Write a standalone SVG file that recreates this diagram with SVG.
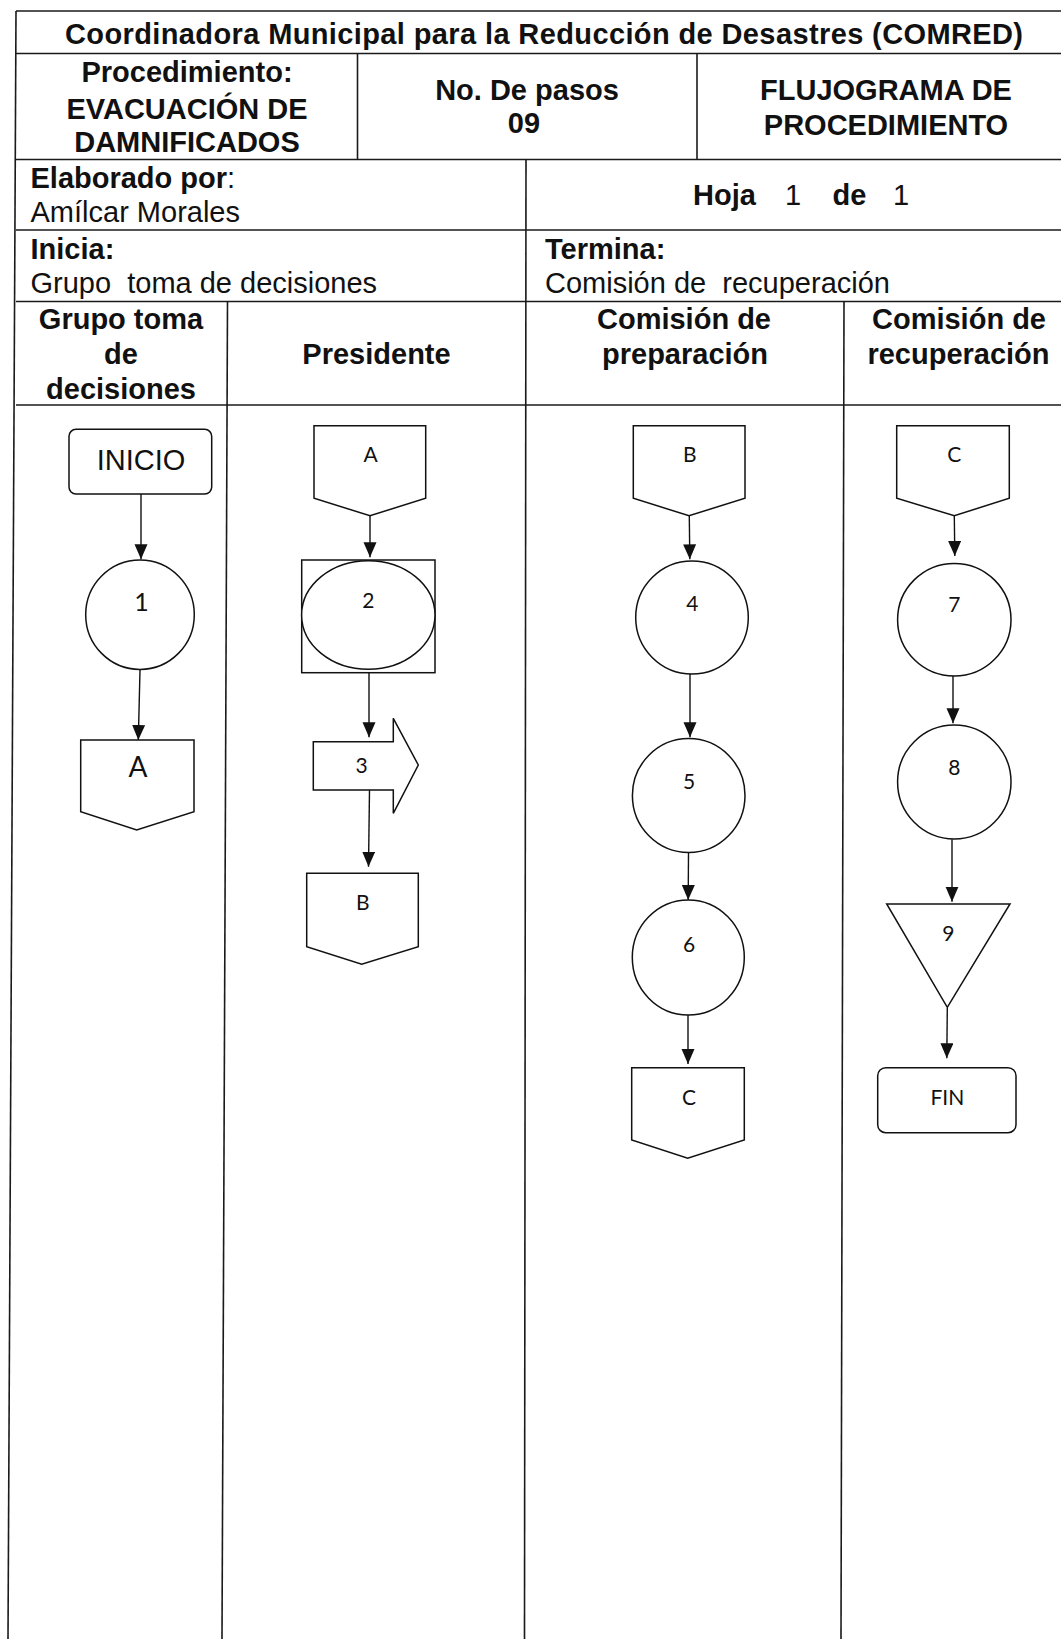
<svg xmlns="http://www.w3.org/2000/svg" width="1061" height="1639" viewBox="0 0 1061 1639">
<defs>
<style>
.tl{stroke:#1a1a1a;stroke-width:1.6;fill:none}
.sh{stroke:#111;stroke-width:1.5;fill:#fff}
.cn{stroke:#111;stroke-width:1.4;fill:none}
.b{font-family:"Liberation Sans",Arial,sans-serif;font-weight:bold;font-size:29px;fill:#111}
.r{font-family:"Liberation Sans",Arial,sans-serif;font-size:29px;fill:#111;white-space:pre}
.n{font-family:Lato,"Noto Sans",sans-serif;font-size:21px;fill:#111;text-anchor:middle}
.m{text-anchor:middle}
</style>
<marker id="ah" markerUnits="userSpaceOnUse" markerWidth="16" markerHeight="14" refX="15" refY="6.5" orient="auto">
<path d="M0,0 L15,6.5 L0,13 z" fill="#111"/>
</marker>
</defs>
<rect width="1061" height="1639" fill="#fff"/>

<g id="table">
<line class="tl" x1="16" y1="11" x2="1061" y2="11"/>
<line class="tl" x1="16" y1="53.5" x2="1061" y2="53.5"/>
<line class="tl" x1="16" y1="159.5" x2="1061" y2="159.5"/>
<line class="tl" x1="16" y1="230" x2="1061" y2="230"/>
<line class="tl" x1="16" y1="301.5" x2="1061" y2="301.5"/>
<line class="tl" x1="16" y1="405" x2="1061" y2="405"/>
<line class="tl" x1="16" y1="11" x2="8" y2="1639"/>
<line class="tl" x1="357.5" y1="53.5" x2="357.5" y2="159.5"/>
<line class="tl" x1="697" y1="53.5" x2="697" y2="159.5"/>
<line class="tl" x1="526" y1="159.5" x2="524.5" y2="1639"/>
<line class="tl" x1="227.5" y1="301.5" x2="222" y2="1639"/>
<line class="tl" x1="844" y1="301.5" x2="841" y2="1639"/>

<text class="b" x="65" y="43.5" textLength="958">Coordinadora Municipal para la Reducción de Desastres (COMRED)</text>
<text class="b m" x="187" y="81.5">Procedimiento:</text>
<text class="b m" x="187" y="118.5">EVACUACIÓN DE</text>
<text class="b m" x="187" y="151.5">DAMNIFICADOS</text>
<text class="b m" x="527" y="100">No. De pasos</text>
<text class="b m" x="524" y="133">09</text>
<text class="b m" x="886" y="100">FLUJOGRAMA DE</text>
<text class="b m" x="886" y="135">PROCEDIMIENTO</text>
<text class="b" x="30.5" y="188">Elaborado por<tspan font-weight="normal">:</tspan></text>
<text class="r" x="30.5" y="222">Amílcar Morales</text>
<text class="b" x="693" y="205">Hoja</text>
<text class="r" x="785" y="205">1</text>
<text class="b" x="832.5" y="205">de</text>
<text class="r" x="893" y="205">1</text>
<text class="b" x="30.5" y="258.5">Inicia:</text>
<text class="r" x="30.5" y="292.5">Grupo  toma de decisiones</text>
<text class="b" x="545" y="258.5">Termina:</text>
<text class="r" x="545" y="292.5">Comisión de  recuperación</text>
<text class="b m" x="121" y="328.5">Grupo toma</text>
<text class="b m" x="121" y="363.5">de</text>
<text class="b m" x="121" y="398.5">decisiones</text>
<text class="b m" x="376.5" y="363.5">Presidente</text>
<text class="b m" x="684" y="329">Comisión de</text>
<text class="b m" x="685" y="364">preparación</text>
<text class="b m" x="959" y="329">Comisión de</text>
<text class="b m" x="958.5" y="364">recuperación</text>
</g>

<g id="connectors">
<line class="cn" x1="141" y1="494" x2="141" y2="559.3" marker-end="url(#ah)"/>
<line class="cn" x1="140" y1="670" x2="138.3" y2="740" marker-end="url(#ah)"/>
<line class="cn" x1="370" y1="516" x2="370" y2="557.3" marker-end="url(#ah)"/>
<line class="cn" x1="369" y1="673" x2="369" y2="737.3" marker-end="url(#ah)"/>
<line class="cn" x1="369.5" y1="790" x2="368.5" y2="866.7" marker-end="url(#ah)"/>
<line class="cn" x1="689.3" y1="516" x2="689.8" y2="559.3" marker-end="url(#ah)"/>
<line class="cn" x1="690" y1="674" x2="690" y2="737.3" marker-end="url(#ah)"/>
<line class="cn" x1="688.5" y1="853" x2="688.2" y2="900" marker-end="url(#ah)"/>
<line class="cn" x1="688" y1="1015" x2="688" y2="1064" marker-end="url(#ah)"/>
<line class="cn" x1="954.3" y1="516" x2="954.8" y2="556" marker-end="url(#ah)"/>
<line class="cn" x1="953" y1="676" x2="953" y2="723.3" marker-end="url(#ah)"/>
<line class="cn" x1="952" y1="839.3" x2="952" y2="901.7" marker-end="url(#ah)"/>
<line class="cn" x1="947.3" y1="1008" x2="946.8" y2="1058.3" marker-end="url(#ah)"/>
</g>

<g id="inicio">
<rect class="sh" x="69" y="429.3" width="142.7" height="64.7" rx="7"/>
<text class="r m" x="141" y="469.5">INICIO</text>
</g>
<g id="step1">
<ellipse class="sh" cx="140" cy="614.7" rx="54.3" ry="54.7"/>
<text class="n" x="141.5" y="610.7" style="font-size:25px">1</text>
</g>
<g id="conA1">
<polygon class="sh" points="80.7,740 194,740 194,811.7 136.7,830 80.7,811.7"/>
<text class="n" x="138" y="776.7" style="font-size:28px">A</text>
</g>

<g id="conA2">
<polygon class="sh" points="314,425.7 425.7,425.7 425.7,498.3 370,515.7 314,498.3"/>
<text class="n" x="370.7" y="461.7">A</text>
</g>
<g id="step2">
<rect class="sh" x="301.7" y="560" width="133.3" height="112.7"/>
<ellipse class="sh" cx="368.3" cy="615" rx="66.7" ry="54.3"/>
<text class="n" x="368.3" y="608.3">2</text>
</g>
<g id="step3">
<polygon class="sh" points="313.3,741.7 393.3,741.7 393.3,718.3 418.3,765 393.3,813.3 393.3,790 313.3,790"/>
<text class="n" x="361.7" y="772.7">3</text>
</g>
<g id="conB2">
<polygon class="sh" points="306.7,873.3 418.3,873.3 418.3,946.7 361.7,964.3 306.7,946.7"/>
<text class="n" x="362.7" y="910">B</text>
</g>

<g id="conB3">
<polygon class="sh" points="633.3,425.7 745,425.7 745,498.3 689,515.7 633.3,498.3"/>
<text class="n" x="689.7" y="462.3">B</text>
</g>
<g id="step4">
<ellipse class="sh" cx="692" cy="617.5" rx="56.3" ry="56.5"/>
<text class="n" x="692.3" y="610.7">4</text>
</g>
<g id="step5">
<ellipse class="sh" cx="688.7" cy="795.5" rx="56.3" ry="57"/>
<text class="n" x="689" y="789.3">5</text>
</g>
<g id="step6">
<ellipse class="sh" cx="688.3" cy="957.5" rx="56" ry="57.5"/>
<text class="n" x="689" y="951.7">6</text>
</g>
<g id="conC3">
<polygon class="sh" points="631.7,1067.7 744.3,1067.7 744.3,1140 687.7,1158.3 631.7,1140"/>
<text class="n" x="689" y="1105">C</text>
</g>

<g id="conC4">
<polygon class="sh" points="896.7,425.7 1009.3,425.7 1009.3,498.3 954.3,515.7 896.7,498.3"/>
<text class="n" x="954.3" y="462.3">C</text>
</g>
<g id="step7">
<ellipse class="sh" cx="954.3" cy="619.7" rx="56.7" ry="56.3"/>
<text class="n" x="954.3" y="612.3">7</text>
</g>
<g id="step8">
<ellipse class="sh" cx="954.3" cy="782" rx="56.7" ry="57"/>
<text class="n" x="954.3" y="775">8</text>
</g>
<g id="step9">
<polygon class="sh" points="886.7,904 1010,904 947.3,1007.3"/>
<text class="n" x="948.3" y="940.7">9</text>
</g>
<g id="fin">
<rect class="sh" x="877.7" y="1067.7" width="138.3" height="65" rx="8"/>
<text class="n" x="947.3" y="1105">FIN</text>
</g>
</svg>
